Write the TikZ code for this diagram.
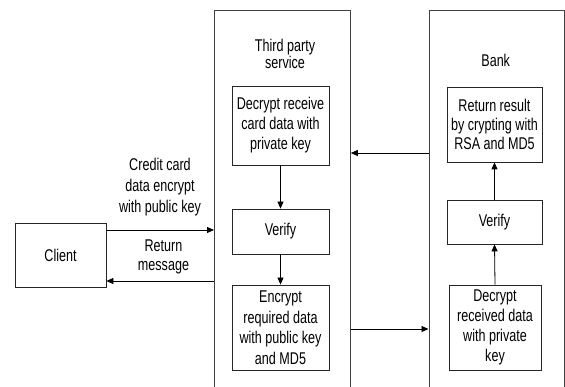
\documentclass[tikz,border=0pt]{standalone}
\usepackage{fontspec}
\setmainfont[FakeStretch=0.74]{Liberation Sans}
\usetikzlibrary{arrows.meta,calc}
\begin{document}
\begin{tikzpicture}[x=1pt,y=-1pt,
  every node/.style={font=\fontsize{17}{20}\selectfont, align=center, inner sep=0pt},
  procbox/.style={draw=black!85, line width=0.8pt},
  container/.style={draw=black!75, line width=0.8pt},
  conn/.style={draw=black, line width=0.8pt, -{Triangle[length=7pt,width=6pt]}}]
\useasboundingbox (0,0) rectangle (565,387);
\clip (0,0) rectangle (565,387);
% containers
\node[container, anchor=north west, minimum width=136pt, minimum height=400pt] (tp) at (214,10) {};
\node[container, anchor=north west, minimum width=135pt, minimum height=400pt] (bank) at (428.5,10) {};
% labels of containers
\node[font=\fontsize{17}{17}\selectfont] (ltp) at (285,53.8) {Third party\\service};
\node (lbk) at (495.7,60.5) {Bank};
% client
\node[procbox, minimum width=91pt, minimum height=64pt] (client) at (60.5,255) {Client};
% third party steps
\node[procbox, minimum width=97pt, minimum height=79pt] (d1) at (280.5,125.5) {Decrypt receive\\card data with\\private key};
\node[procbox, minimum width=97pt, minimum height=45pt] (v1) at (280.5,231.5) {Verify};
\node[procbox, minimum width=97pt, minimum height=85pt, font=\fontsize{17}{20.5}\selectfont] (e1) at (280.5,327.5) {Encrypt\\required data\\with public key\\and MD5};
% bank steps
\node[procbox, minimum width=95pt, minimum height=75pt, font=\fontsize{17}{19}\selectfont] (r2) at (494.5,124.5) {Return result\\by crypting with\\RSA and MD5};
\node[procbox, minimum width=95pt, minimum height=44pt] (v2) at (494.5,222) {Verify};
\node[procbox, minimum width=92pt, minimum height=85pt] (d2) at (495,327.5) {Decrypt\\received data\\with private\\key};
% connector labels
\node[font=\fontsize{17}{21}\selectfont] (lcc) at (160,187.6) {Credit card\\data encrypt\\with public key};
\node[font=\fontsize{17}{19}\selectfont] (lrm) at (163.5,257) {Return\\message};
% connector levels
\coordinate (ya) at (0,230);
\coordinate (yb) at (0,281);
\coordinate (yc) at (0,153);
\coordinate (yd) at (0,329);
% connectors
\draw[conn] (d1.south) -- (v1.north);
\draw[conn] (v1.south) -- (e1.north);
\draw[conn] (d2.north) -- (v2.south);
\draw[conn] (v2.north) -- (r2.south);
\draw[conn] (client.east |- ya) -- (tp.west |- ya);
\draw[conn] (tp.west |- yb) -- (client.east |- yb);
\draw[conn] (bank.west |- yc) -- (tp.east |- yc);
\draw[conn] (tp.east |- yd) -- (bank.west |- yd);
\end{tikzpicture}
\end{document}
